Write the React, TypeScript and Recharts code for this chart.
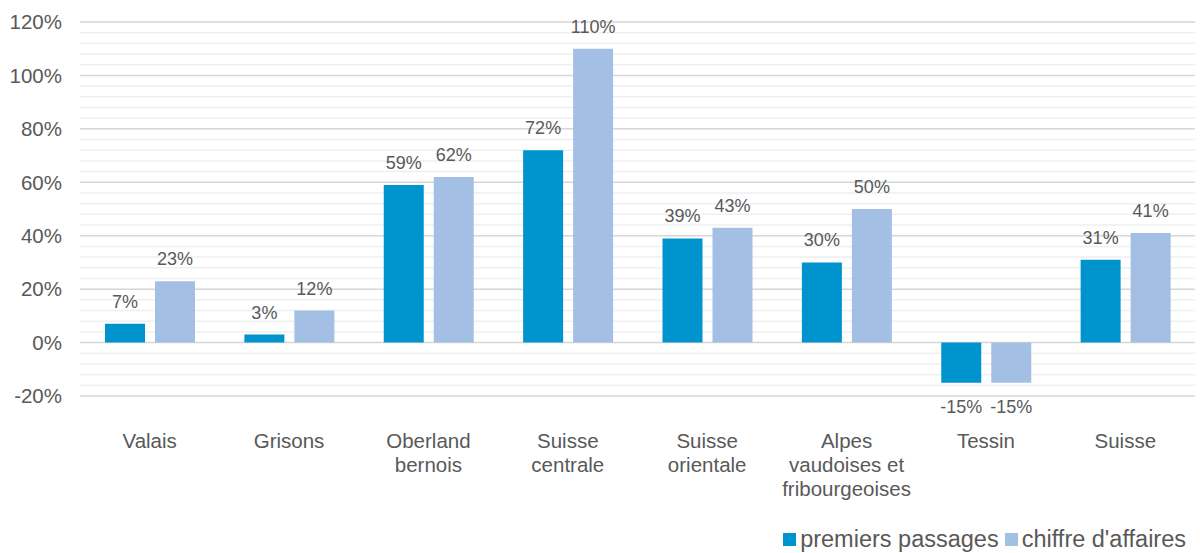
import { BarChart, Bar, XAxis, YAxis, CartesianGrid, Legend, LabelList } from 'recharts';

const regions = ['Valais', 'Grisons', 'Oberland bernois', 'Suisse centrale', 'Suisse orientale', 'Alpes vaudoises et fribourgeoises', 'Tessin', 'Suisse'];
const premiersPassages = [7, 3, 59, 72, 39, 30, -15, 31];
const chiffreAffaires = [23, 12, 62, 110, 43, 50, -15, 41];

// category labels broken like in the original
const regionLines: Record<string, string[]> = {
  'Valais': ['Valais'],
  'Grisons': ['Grisons'],
  'Oberland bernois': ['Oberland', 'bernois'],
  'Suisse centrale': ['Suisse', 'centrale'],
  'Suisse orientale': ['Suisse', 'orientale'],
  'Alpes vaudoises et fribourgeoises': ['Alpes', 'vaudoises et', 'fribourgeoises'],
  'Tessin': ['Tessin'],
  'Suisse': ['Suisse'],
};

const yTicks = [-20, -16, -12, -8, -4, 0, 4, 8, 12, 16, 20, 24, 28, 32, 36, 40, 44, 48, 52, 56, 60, 64, 68, 72, 76, 80, 84, 88, 92, 96, 100, 104, 108, 112, 116, 120];
const majorTicks = [-20, 0, 20, 40, 60, 80, 100, 120];
const minorTicks = yTicks.filter((t) => !majorTicks.includes(t));

const data = regions.map((name, i) => ({
  name,
  premiers: premiersPassages[i],
  chiffre: chiffreAffaires[i],
}));

const DARK = '#0094cf';
const LIGHT = '#a3bfe3';
const TEXT = '#595959';
const FONT = '"Liberation Sans", Arial, sans-serif';

const CategoryTick = (props: any) => {
  const { x, y, payload } = props;
  const lines = regionLines[payload.value] || [payload.value];
  return (
    <text x={x} y={y + 37} textAnchor="middle" fill={TEXT} fontSize={20.5} fontFamily={FONT}>
      {lines.map((l, i) => (
        <tspan key={i} x={x} dy={i === 0 ? 7 : 24}>{l}</tspan>
      ))}
    </text>
  );
};

const ValueLabel = (props: any) => {
  const { x, y, width, height, value } = props;
  const top = Math.min(y, y + height);
  const bottom = Math.max(y, y + height);
  const ty = value >= 0 ? top - 22 : bottom + 24;
  return (
    <text x={x + width / 2} y={ty} dy={6} textAnchor="middle" fill={TEXT} fontSize={18} fontFamily={FONT}>
      {value}%
    </text>
  );
};

const LegendContent = () => (
  <div style={{ display: 'flex', justifyContent: 'flex-end', alignItems: 'center', height: 30, position: 'relative', top: 1, fontFamily: FONT, fontSize: 23.5, color: TEXT, paddingRight: 9 }}>
    <span style={{ display: 'inline-block', width: 13, height: 13, background: DARK, marginRight: 4 }} />
    <span style={{ marginRight: 6 }}>premiers passages</span>
    <span style={{ display: 'inline-block', width: 13, height: 13, background: LIGHT, marginRight: 4 }} />
    <span>chiffre d'affaires</span>
  </div>
);

export default function App() {
  return (
    <div style={{ width: 1200, height: 553, overflow: 'hidden' }}>
      <style>{`body{margin:0;}`}</style>
      <BarChart
        width={1200}
        height={553}
        data={data}
        margin={{ top: 22, right: 5, bottom: 0, left: 0 }}
        barGap={10}
        barSize={40}
      >
        <CartesianGrid vertical={false} horizontalValues={minorTicks} stroke="#efefef" strokeWidth={1.5} />
        <CartesianGrid vertical={false} horizontalValues={majorTicks} stroke="#d6d6d6" strokeWidth={1.5} />
        <XAxis dataKey="name" axisLine={false} tickLine={false} tick={<CategoryTick />} height={127} interval={0} />
        <YAxis
          domain={[-20, 120]}
          ticks={yTicks}
          interval={0}
          axisLine={false}
          tickLine={false}
          width={80}
          tickMargin={12}
          tickFormatter={(v: number) => (majorTicks.includes(v) ? `${v}%` : '')}
          tick={{ fill: TEXT, fontSize: 20.5, fontFamily: FONT }}
        />
        <Legend verticalAlign="bottom" align="right" content={<LegendContent />} />
        <Bar dataKey="premiers" name="premiers passages" fill={DARK} isAnimationActive={false}>
          <LabelList dataKey="premiers" content={<ValueLabel />} />
        </Bar>
        <Bar dataKey="chiffre" name="chiffre d'affaires" fill={LIGHT} isAnimationActive={false}>
          <LabelList dataKey="chiffre" content={<ValueLabel />} />
        </Bar>
      </BarChart>
    </div>
  );
}
